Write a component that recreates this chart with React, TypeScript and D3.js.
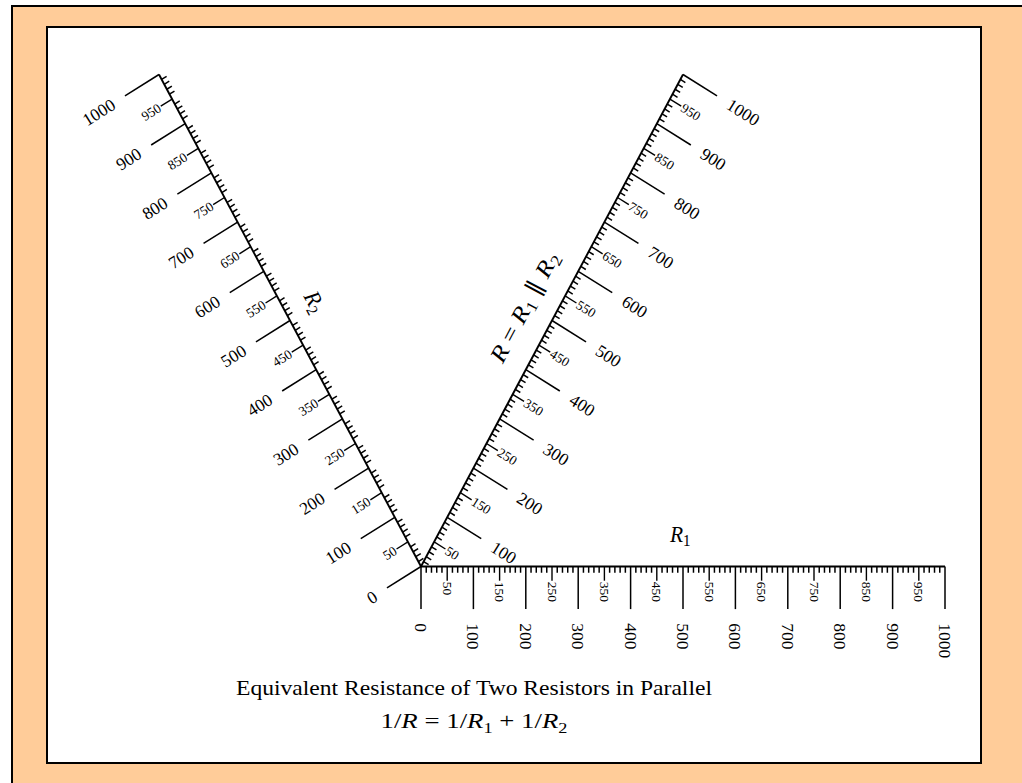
import * as d3 from "d3";

// Nomogram for 1/R = 1/R1 + 1/R2 (three scales at 0°, 60°, 120°)

const W = 1022;
const H = 783;

// tick values in ohms, same for every scale
const majorTicks = [0, 100, 200, 300, 400, 500, 600, 700, 800, 900, 1000];
const midTicks = [50, 150, 250, 350, 450, 550, 650, 750, 850, 950];

// each scale: direction in degrees, which side the big ticks go
const scalesDef = [
  { key: "R1", angle: 0, flip: false, skipZero: false },
  { key: "R2", angle: 120, flip: true, skipZero: false },
  { key: "R", angle: 60, flip: false, skipZero: true },
];

const titleText = "Equivalent Resistance of Two Resistors in Parallel";

const MAJOR_LEN = 75;
const MID_LEN = 25;
const MINOR_LEN = 11;
const MAJOR_LABEL = 100;
const MID_LABEL = 27;
const NAME_OFF = 58;

const FONT = "'Liberation Serif', 'Times New Roman', serif";

function Sub({ base, sub, size }: { base: string; sub?: string; size: number }) {
  const sh = Math.round(size * 0.25);
  return (
    <>
      <tspan fontStyle="italic">{base}</tspan>
      {sub ? (
        <>
          <tspan fontSize={size * 0.7} dy={sh}>
            {sub}
          </tspan>
          <tspan dy={-sh}>{"\u00a0"}</tspan>
        </>
      ) : null}
    </>
  );
}

export default function App() {
  // data space: R1 along x, height of the 60° scale top = 1000*sin60
  const x = d3.scaleLinear().domain([0, 1000]).range([421, 945]);
  const y = d3
    .scaleLinear()
    .domain([0, 1000 * Math.sin(Math.PI / 3)])
    .range([566.5, 74.5]);
  const ohm = d3.scaleLinear().domain([0, 1000]);
  const minorTicks = ohm.ticks(100).filter((t) => t % 50 !== 0);

  const rad = Math.PI / 180;

  const scales = scalesDef.map((s) => {
    const ux = Math.cos(s.angle * rad);
    const uy = Math.sin(s.angle * rad);
    // minor tick normal: direction - 90°
    const nx = Math.sin(s.angle * rad);
    const ny = -Math.cos(s.angle * rad);
    const sx = s.flip ? -nx : nx;
    const sy = s.flip ? -ny : ny;
    const pt = (v: number, off: number, ox: number, oy: number) => [
      x(v * ux + off * ox),
      y(v * uy + off * oy),
    ];
    // screen angle of the big-tick side
    let ang = (Math.atan2(y(sy) - y(0), x(sx) - x(0)) * 180) / Math.PI;
    let anchor = "start";
    if (ang > 90) {
      ang -= 180;
      anchor = "end";
    } else if (ang < -90) {
      ang += 180;
      anchor = "end";
    }
    let axAng = (Math.atan2(y(uy) - y(0), x(ux) - x(0)) * 180) / Math.PI;
    if (axAng > 90) axAng -= 180;
    if (axAng < -90) axAng += 180;
    return { ...s, ux, uy, nx, ny, sx, sy, pt, ang, anchor, axAng };
  });

  const nameSize = 23;

  return (
    <svg
      width={W}
      height={H}
      style={{ position: "absolute", left: 0, top: 0 }}
      fontFamily={FONT}
    >
      <rect x={12} y={6} width={W + 20} height={H + 20} fill="#ffcc99" stroke="#000" strokeWidth={2} />
      <rect x={47} y={27} width={934} height={736} fill="#fff" stroke="#000" strokeWidth={2} />

      {scales.map((s) => {
        const [x0, y0] = s.pt(0, 0, 0, 0);
        const [x1, y1] = s.pt(1000, 0, 0, 0);
        const majors = majorTicks.filter((v) => !(s.skipZero && v === 0));
        const [lx, ly] = s.pt(500, NAME_OFF, -s.sx, -s.sy);
        const isR = s.key === "R";
        return (
          <g key={s.key}>
            {minorTicks.map((v) => {
              const [ax, ay] = s.pt(v, 0, 0, 0);
              const [bx, by] = s.pt(v, MINOR_LEN, s.nx, s.ny);
              return <line key={"m" + v} x1={ax} y1={ay} x2={bx} y2={by} stroke="#000" strokeWidth={1.5} />;
            })}
            {midTicks.map((v) => {
              const [ax, ay] = s.pt(v, 0, 0, 0);
              const [bx, by] = s.pt(v, MID_LEN, s.sx, s.sy);
              const [tx, ty] = s.pt(v, MID_LABEL, s.sx, s.sy);
              return (
                <g key={"d" + v}>
                  <line x1={ax} y1={ay} x2={bx} y2={by} stroke="#000" strokeWidth={1.4} />
                  <text
                    transform={`translate(${tx},${ty}) rotate(${s.ang})`}
                    textAnchor={s.anchor}
                    dominantBaseline="central"
                    fontSize={13.5}
                  >
                    {v}
                  </text>
                </g>
              );
            })}
            {majors.map((v) => {
              const [ax, ay] = s.pt(v, 0, 0, 0);
              const [bx, by] = s.pt(v, MAJOR_LEN, s.sx, s.sy);
              const [tx, ty] = s.pt(v, MAJOR_LABEL, s.sx, s.sy);
              return (
                <g key={"M" + v}>
                  <line x1={ax} y1={ay} x2={bx} y2={by} stroke="#000" strokeWidth={1.5} />
                  <text
                    transform={`translate(${tx},${ty}) rotate(${s.ang})`}
                    textAnchor={s.anchor}
                    dominantBaseline="central"
                    fontSize={17.5}
                  >
                    {v}
                  </text>
                </g>
              );
            })}
            <line x1={x0} y1={y0} x2={x1} y2={y1} stroke="#000" strokeWidth={1.9} />
            <text
              transform={`translate(${lx},${ly}) rotate(${s.axAng})`}
              textAnchor="middle"
              dominantBaseline="central"
              fontSize={nameSize}
              textLength={isR ? 128 : 26}
              lengthAdjust="spacingAndGlyphs"
            >
              {isR ? (
                <>
                  <Sub base="R" size={nameSize} />
                  <tspan>{"\u00a0=\u00a0"}</tspan>
                  <Sub base="R" sub="1" size={nameSize} />
                  <tspan>{"∥\u00a0"}</tspan>
                  <Sub base="R" sub="2" size={nameSize} />
                </>
              ) : (
                <Sub base="R" sub={s.key.slice(1)} size={nameSize} />
              )}
            </text>
          </g>
        );
      })}

      <text
        x={474}
        y={695}
        textAnchor="middle"
        fontSize={21}
        textLength={476}
        lengthAdjust="spacingAndGlyphs"
      >
        {titleText}
      </text>
      <text
        x={474}
        y={728}
        textAnchor="middle"
        fontSize={22}
        textLength={187}
        lengthAdjust="spacingAndGlyphs"
      >
        <tspan>1/</tspan>
        <tspan fontStyle="italic">R</tspan>
        <tspan>{" = 1/"}</tspan>
        <tspan fontStyle="italic">R</tspan>
        <tspan fontSize={15} dy={5}>1</tspan>
        <tspan dy={-5}>{" + 1/"}</tspan>
        <tspan fontStyle="italic">R</tspan>
        <tspan fontSize={15} dy={5}>2</tspan>
      </text>
    </svg>
  );
}
